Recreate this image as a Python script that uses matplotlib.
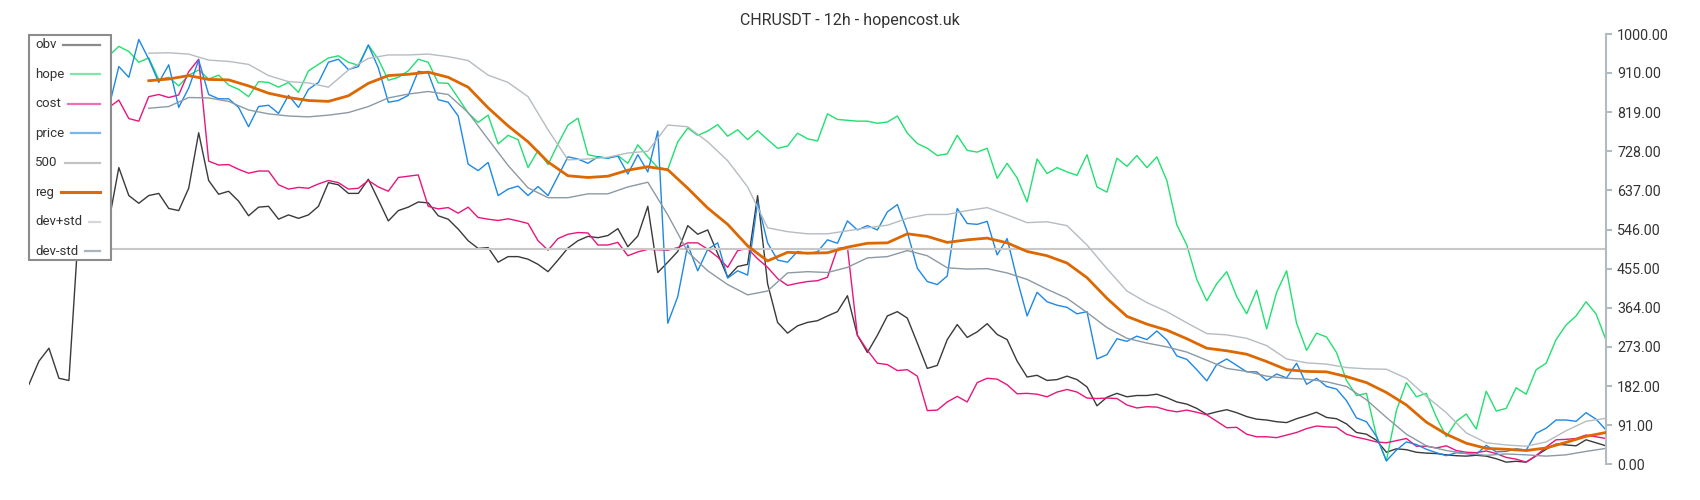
import numpy as np
import matplotlib
matplotlib.use("Agg")
import matplotlib.pyplot as plt
from matplotlib.lines import Line2D
from matplotlib.patches import Rectangle

plt.rcParams["font.family"] = ["Roboto", "DejaVu Sans"]

TITLE = "CHRUSDT - 12h - hopencost.uk"
LABELS = ["obv", "hope", "cost", "price", "500", "reg", "dev+std", "dev-std"]
Y_TICKS = [0, 91, 182, 273, 364, 455, 546, 637, 728, 819, 910, 1000]
LEVEL = 500

# obv starts at the first candle, hope/cost/price a few candles later,
# reg and the bands are sampled every 2 candles once the window is full
OBV = [186, 240, 270, 200, 195, 560, 565, 560, 564, 690,
       625, 607, 625, 630, 595, 590, 642, 771, 660, 628,
       635, 612, 578, 598, 600, 570, 580, 572, 580, 600,
       655, 650, 630, 630, 663, 615, 566, 590, 598, 610,
       608, 578, 570, 547, 520, 502, 504, 470, 483, 483,
       477, 465, 448, 475, 503, 520, 530, 527, 532, 548,
       506, 531, 600, 446, 470, 495, 555, 535, 545, 490,
       435, 460, 465, 625, 420, 330, 305, 322, 330, 334,
       345, 355, 392, 300, 260, 300, 345, 355, 340, 282,
       223, 230, 290, 325, 295, 308, 327, 302, 290, 240,
       203, 207, 195, 197, 205, 197, 180, 136, 156, 165,
       157, 160, 160, 163, 155, 145, 140, 130, 116, 122,
       127, 120, 111, 105, 103, 99, 97, 106, 113, 121,
       109, 106, 94, 74, 70, 56, 28, 36, 34, 28,
       26, 25, 22, 20, 19, 21, 19, 13, 5, 7,
       5, 20, 35, 47, 45, 43, 57, 50, 43]

LINE_START = 8
HOPE = [950, 972, 960, 935, 945, 895, 900, 880, 905, 917,
        896, 905, 882, 872, 855, 890, 888, 877, 888, 865,
        915, 930, 945, 950, 935, 928, 975, 942, 893, 900,
        915, 942, 935, 887, 886, 852, 817, 795, 812, 745,
        765, 755, 690, 730, 697, 745, 789, 805, 720, 715,
        712, 718, 700, 743, 715, 690, 686, 750, 782, 765,
        775, 790, 763, 778, 755, 776, 755, 735, 740, 770,
        757, 752, 815, 802, 800, 798, 798, 793, 796, 810,
        770, 746, 735, 718, 722, 765, 730, 726, 735, 665,
        700, 666, 610, 710, 676, 690, 680, 672, 720, 645,
        633, 712, 693, 718, 690, 715, 660, 557, 510, 430,
        380, 420, 448, 390, 350, 405, 315, 400, 450, 328,
        265, 305, 296, 260, 195, 160, 165, 66, 8, 125,
        190, 157, 165, 110, 64, 100, 117, 82, 170, 124,
        130, 178, 163, 220, 235, 290, 324, 345, 378, 350,
        289]

COST = [830, 847, 804, 798, 855, 860, 853, 859, 913, 942,
        705, 696, 697, 686, 677, 682, 682, 650, 640, 644,
        642, 652, 660, 655, 640, 642, 660, 645, 635, 667,
        670, 673, 600, 594, 597, 584, 598, 574, 570, 567,
        571, 566, 560, 520, 498, 525, 535, 539, 538, 510,
        510, 516, 485, 494, 500, 499, 498, 504, 515, 515,
        500, 482, 458, 497, 502, 478, 458, 432, 416, 421,
        425, 427, 435, 502, 505, 300, 265, 235, 232, 218,
        220, 205, 125, 126, 145, 158, 145, 190, 200, 198,
        185, 164, 165, 163, 157, 168, 174, 168, 154, 153,
        154, 153, 138, 131, 134, 133, 126, 122, 126, 121,
        115, 100, 85, 86, 70, 64, 64, 62, 68, 74,
        83, 89, 87, 86, 70, 63, 58, 52, 50, 55,
        60, 42, 42, 38, 43, 32, 28, 27, 31, 25,
        16, 12, 5, 20, 40, 57, 58, 60, 68, 64,
        60]

PRICE = [830, 925, 900, 988, 942, 888, 929, 830, 875, 940,
         860, 850, 850, 830, 785, 832, 835, 816, 858, 830,
         872, 888, 935, 942, 918, 925, 975, 922, 842, 846,
         858, 914, 910, 848, 842, 810, 698, 683, 702, 625,
         640, 647, 625, 646, 625, 670, 715, 710, 700, 715,
         712, 717, 675, 720, 680, 775, 328, 390, 510, 450,
         500, 515, 433, 450, 440, 610, 515, 475, 470, 495,
         490, 494, 522, 514, 566, 545, 555, 545, 587, 604,
         540, 456, 425, 418, 438, 595, 560, 558, 565, 487,
         525, 430, 345, 400, 378, 370, 365, 350, 355, 245,
         255, 292, 286, 298, 290, 310, 289, 252, 244, 220,
         194, 232, 245, 230, 215, 215, 195, 210, 201, 235,
         186, 200, 181, 175, 148, 108, 99, 65, 8, 33,
         52, 46, 35, 27, 20, 27, 25, 23, 44, 29,
         30, 36, 33, 72, 84, 103, 103, 100, 120, 105,
         80]

BAND_START, BAND_STEP = 12, 2
REG = [892, 896, 904, 895, 894, 880, 863, 853, 846, 844,
       857, 886, 904, 907, 912, 900, 877, 829, 787, 750,
       703, 671, 667, 670, 684, 692, 685, 642, 596, 558,
       508, 473, 493, 491, 492, 505, 514, 515, 536, 530,
       516, 522, 526, 515, 495, 485, 468, 434, 386, 344,
       326, 312, 292, 270, 264, 256, 239, 220, 216, 215,
       204, 190, 167, 138, 98, 70, 49, 37, 35, 32,
       38, 51, 65, 74]

DEV_UP = [956, 957, 954, 940, 937, 930, 904, 890, 887, 877,
          917, 944, 952, 952, 954, 948, 939, 905, 888, 855,
          778, 708, 710, 714, 724, 728, 789, 785, 750, 706,
          645, 550, 541, 536, 536, 543, 550, 556, 572, 581,
          581, 590, 597, 580, 562, 564, 555, 510, 455, 403,
          376, 355, 329, 304, 301, 293, 276, 245, 236, 233,
          225, 222, 221, 200, 158, 120, 73, 50, 45, 42,
          52, 78, 100, 107]

DEV_DN = [828, 832, 853, 852, 844, 824, 815, 810, 808, 812,
          818, 832, 852, 861, 867, 860, 818, 756, 695, 643,
          620, 620, 629, 629, 645, 656, 580, 494, 450, 418,
          394, 403, 445, 448, 446, 458, 480, 483, 497, 485,
          457, 454, 455, 445, 430, 407, 386, 353, 318, 293,
          282, 273, 261, 242, 223, 216, 205, 200, 198, 192,
          181, 150, 109, 70, 43, 32, 25, 21, 24, 22,
          19, 22, 30, 37]

# plot colours and the paler legend swatches
COLORS = {"obv": "#3a3a3a", "hope": "#20e070", "cost": "#e8167c",
          "price": "#1e88e5", "500": "#c8c8c8", "reg": "#dd6700",
          "dev+std": "#b5bcc2", "dev-std": "#8d99a3"}
SWATCH = {"obv": "#8a8a8a", "hope": "#7fe7a9", "cost": "#f06fb0",
          "price": "#79b6ee", "500": "#c3c3c3", "reg": "#d86a10",
          "dev+std": "#d3d7db", "dev-std": "#aab3ba"}

W, H = 1700, 500
fig = plt.figure(figsize=(W / 100, H / 100), dpi=100)
ax = fig.add_axes([29 / W, 1 - 464.3 / H, (1606 - 29) / W, 430 / H])

x_all = np.arange(len(OBV))
x_line = np.arange(LINE_START, LINE_START + len(HOPE))
x_band = np.arange(BAND_START, BAND_START + BAND_STEP * len(REG), BAND_STEP)

ax.plot(x_all, OBV, color=COLORS["obv"], lw=1.0)
ax.plot(x_line, HOPE, color=COLORS["hope"], lw=1.0)
ax.plot(x_line, COST, color=COLORS["cost"], lw=1.0)
ax.plot(x_line, PRICE, color=COLORS["price"], lw=1.0)
ax.axhline(LEVEL, color=COLORS["500"], lw=1.5)
ax.plot(x_band, DEV_UP, color=COLORS["dev+std"], lw=1.0)
ax.plot(x_band, DEV_DN, color=COLORS["dev-std"], lw=1.0)
ax.plot(x_band, REG, color=COLORS["reg"], lw=2.0, zorder=3)

ax.set_xlim(0, len(OBV) - 1)
ax.set_ylim(0, 1000)
for side in ("top", "left", "bottom"):
    ax.spines[side].set_visible(False)
ax.spines["right"].set_color("#b3bbc2")
ax.spines["right"].set_linewidth(1.5)
ax.set_xticks([])
ax.yaxis.tick_right()
ax.set_yticks(Y_TICKS)
ax.set_yticklabels([f"{v:.2f}" for v in Y_TICKS])
ax.tick_params(axis="y", length=4, width=1.5, color="#b3bbc2",
               labelsize=10.3, labelcolor="#333333", pad=4)

fig.text(0.5, 1 - 20.7 / H, TITLE, ha="center", va="center",
         fontsize=11.5, color="#333333")

# hand-made legend: label first, swatch running to a fixed right edge
fig.add_artist(Rectangle((29 / W, 1 - 260 / H), 82 / W, 225 / H,
                         transform=fig.transFigure, facecolor="white",
                         edgecolor="#8c8c8c", lw=1.5, zorder=5))
renderer = fig.canvas.get_renderer()
for k, lab in enumerate(LABELS):
    yc = 45 + k * 29.43
    t = fig.text(35 / W, 1 - yc / H, lab, ha="left", va="center",
                 fontsize=9.5, color="#333333", zorder=6)
    bb = t.get_window_extent(renderer)
    fig.add_artist(Line2D([(bb.x1 + 7) / W, 100 / W], [1 - yc / H] * 2,
                          transform=fig.transFigure, color=SWATCH[lab],
                          lw=2.2 if lab == "reg" else 1.6, zorder=6))

fig.savefig("out.png", dpi=100)
